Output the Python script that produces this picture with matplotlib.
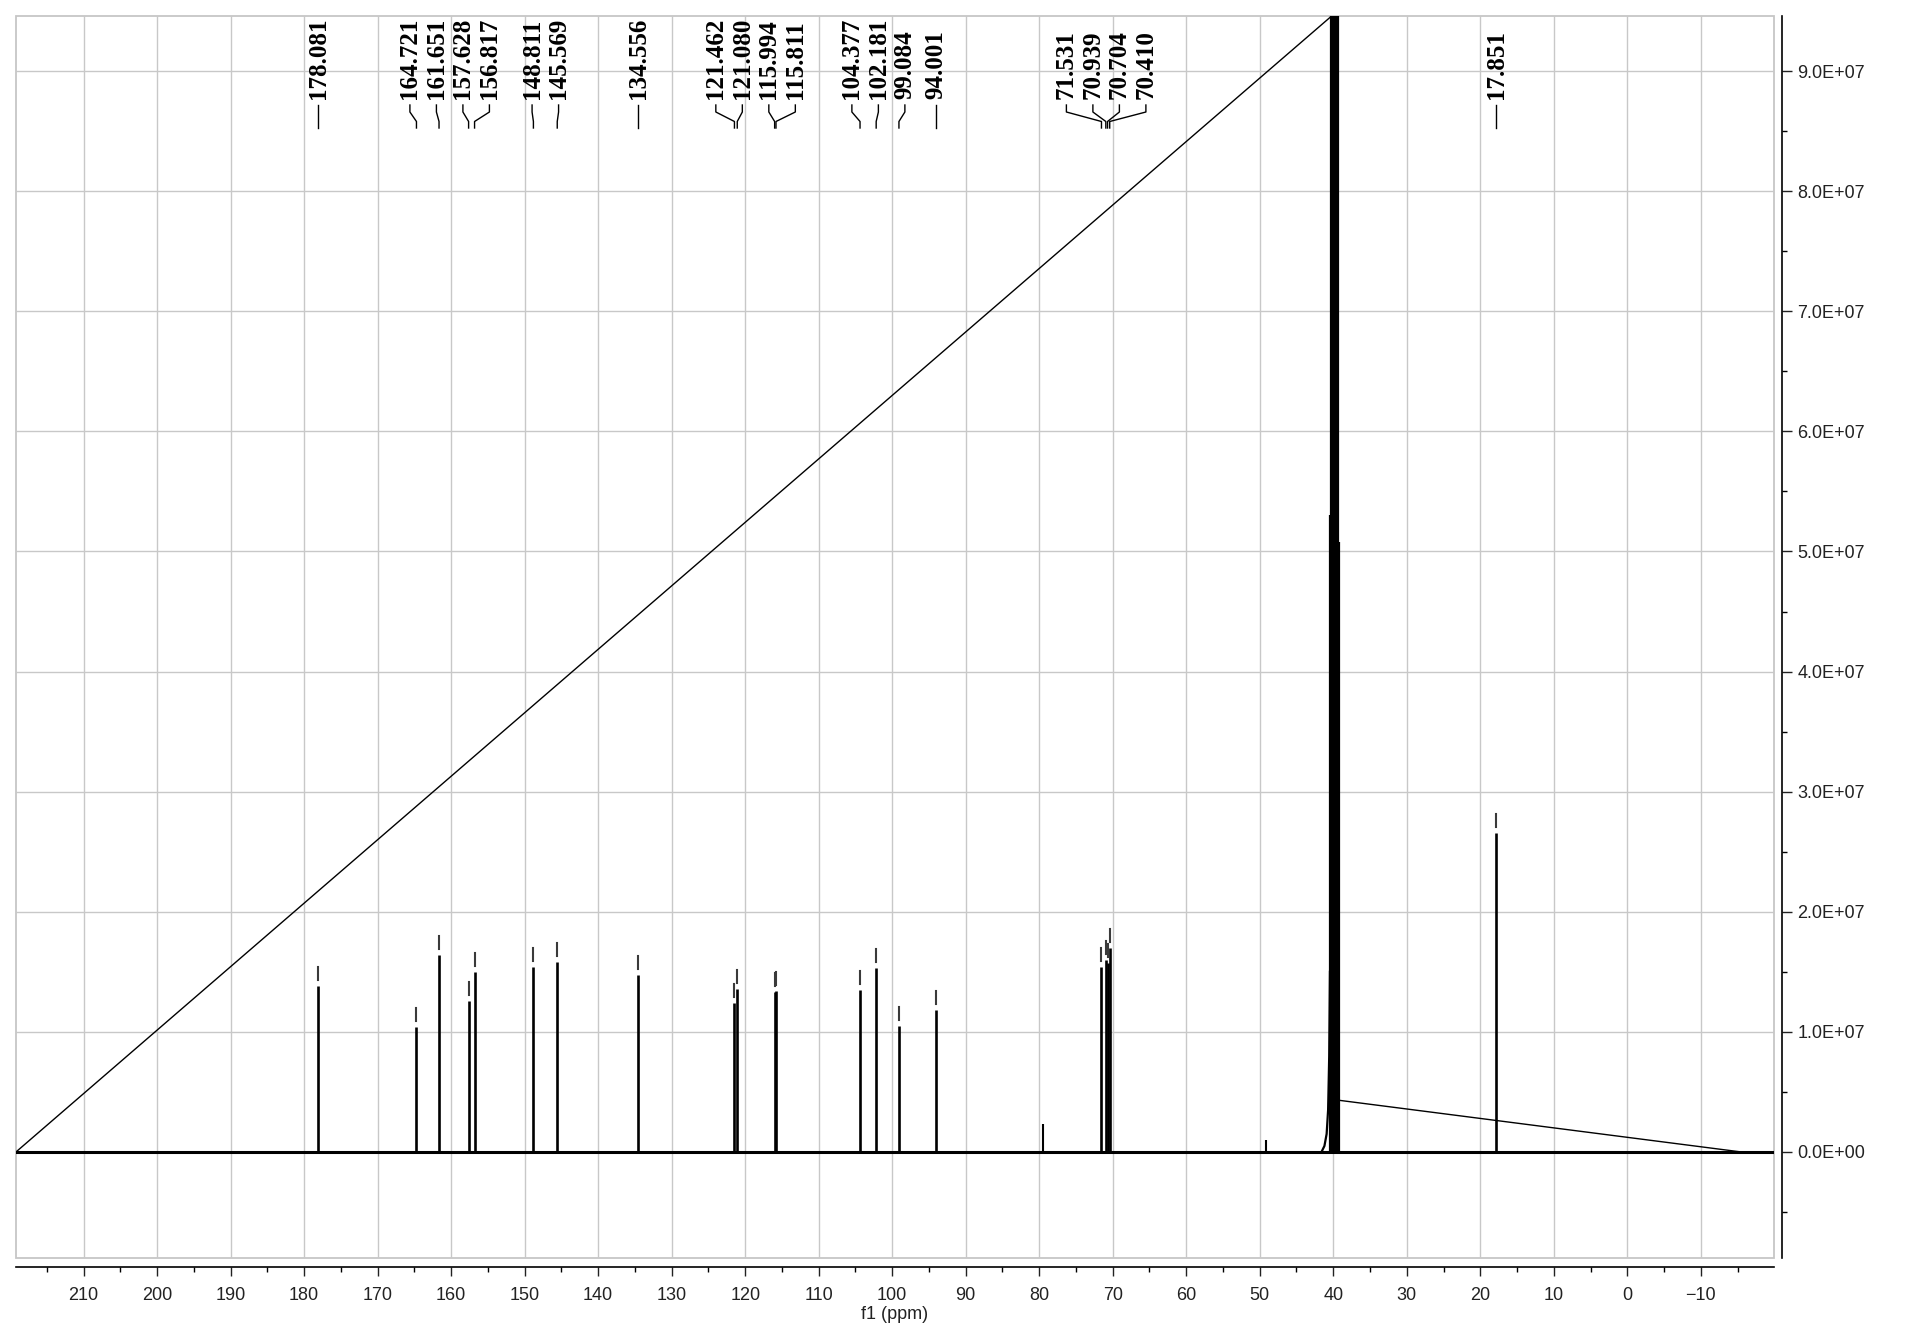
import matplotlib
matplotlib.use("Agg")
import matplotlib.pyplot as plt
from matplotlib import transforms
from matplotlib.lines import Line2D
from matplotlib.patches import Rectangle
from matplotlib.ticker import MultipleLocator, FuncFormatter
import numpy as np

# ---- 13C spectrum data -------------------------------------------------
# labelled resonances (ppm) and their peak intensities
peak_ppm = [178.081, 164.721, 161.651, 157.628, 156.817, 148.811, 145.569, 134.556,
            121.462, 121.080, 115.994, 115.811, 104.377, 102.181, 99.084, 94.001,
            71.531, 70.939, 70.704, 70.410, 17.851]
peak_int = [1.38e7, 1.04e7, 1.64e7, 1.26e7, 1.50e7, 1.54e7, 1.58e7, 1.47e7,
            1.24e7, 1.36e7, 1.33e7, 1.34e7, 1.35e7, 1.53e7, 1.05e7, 1.18e7,
            1.54e7, 1.60e7, 1.57e7, 1.70e7, 2.66e7]

# small unlabelled signals
minor_ppm = [79.5, 49.1]
minor_int = [0.23e7, 0.10e7]

# DMSO-d6 solvent septet (inner lines run off scale)
solvent_ppm = [40.45, 40.24, 40.03, 39.82, 39.60, 39.39, 39.18]
solvent_int = [5.30e7, 15.9e7, 31.8e7, 37.1e7, 31.8e7, 15.3e7, 5.08e7]
# broadened foot of the solvent signal
solvent_foot_ppm = [41.6, 41.2, 40.9, 40.7, 40.55, 40.45]
solvent_foot_int = [0.0, 0.05e7, 0.15e7, 0.35e7, 0.8e7, 1.5e7]

# integral traces
integral1_ppm = [219.2, 40.2]
integral1_val = [0.0, 9.46e7]
integral2_ppm = [39.18, -15.5]
integral2_val = [0.43e7, 0.0]

x_limits = (219.2, -19.96)
y_limits = (-0.883e7, 9.459e7)

# ---- figure ---------------------------------------------------------------
W, H, DPI = 1917, 1327, 100
fig = plt.figure(figsize=(W / DPI, H / DPI), dpi=DPI)
fig.patch.set_facecolor("white")

ax_l, ax_r, ax_t, ax_b = 16, 1774, 16, 1258
ax = fig.add_axes([ax_l / W, (H - ax_b) / H, (ax_r - ax_l) / W, (ax_b - ax_t) / H])
ax.set_xlim(*x_limits)
ax.set_ylim(*y_limits)

tick_font = dict(family=["Liberation Sans", "DejaVu Sans"], size=13)
label_font = ["Liberation Serif", "DejaVu Serif"]

# frame and spines
for side in ("left", "top"):
    ax.spines[side].set_visible(False)
ax.spines["bottom"].set_position(("outward", 6.5))
ax.spines["right"].set_position(("outward", 5.8))
ax.spines["bottom"].set_linewidth(1.2)
ax.spines["right"].set_linewidth(1.2)
ax.add_patch(Rectangle((0, 0), 1, 1, transform=ax.transAxes, fill=False,
                       ec="#c6c6c6", lw=1.3, clip_on=False, zorder=0.5))

# x axis
ax.xaxis.set_major_locator(MultipleLocator(10))
ax.xaxis.set_minor_locator(MultipleLocator(5))
ax.tick_params(axis="x", which="major", direction="out", length=6.5, width=1.0,
               pad=8, labelsize=13, colors="#222222")
ax.tick_params(axis="x", which="minor", direction="out", length=3.3, width=1.0)
ax.set_xlabel("f1 (ppm)", fontdict=tick_font, color="#222222", labelpad=1)

# y axis on the right
ax.yaxis.tick_right()
ax.yaxis.set_major_locator(MultipleLocator(1e7))
ax.yaxis.set_minor_locator(MultipleLocator(0.5e7))
ax.yaxis.set_major_formatter(FuncFormatter(lambda v, p: f"{v:.1E}"))
ax.tick_params(axis="y", which="major", direction="out", length=7, width=1.0,
               pad=4, labelsize=13, colors="#222222")
ax.tick_params(axis="y", which="minor", direction="out", length=3.6, width=1.0)
ax.yaxis.offsetText.set_visible(False)

for t in ax.get_xticklabels() + ax.get_yticklabels():
    t.set_fontfamily(tick_font["family"])

ax.grid(True, which="major", color="#c8c8c8", lw=1.0, zorder=0)
ax.set_axisbelow(True)

# ---- spectrum ---------------------------------------------------------
ax.axhline(0, color="black", lw=2.2, zorder=2)
ax.vlines(peak_ppm, 0, peak_int, colors="black", lw=1.9, zorder=3)
ax.vlines(minor_ppm, 0, minor_int, colors="black", lw=1.5, zorder=3)
ax.vlines(solvent_ppm, 0, solvent_int, colors="black", lw=1.6, zorder=3)
ax.plot(solvent_foot_ppm, solvent_foot_int, color="black", lw=1.6, zorder=3)

ax.plot(integral1_ppm, integral1_val, color="black", lw=1.0, zorder=2.5)
ax.plot(integral2_ppm, integral2_val, color="black", lw=1.0, zorder=2.5)

# ---- peak picking marks and labels -----------------------------------------
pk_disp = ax.transData.transform(np.column_stack([peak_ppm, peak_int]))
pk_x = pk_disp[:, 0]
pk_y = pk_disp[:, 1]

# small tick above each picked peak
for x, y in zip(pk_x, pk_y):
    fig.add_artist(Line2D([x, x], [y + 6, y + 19], transform=transforms.IdentityTransform(),
                          color="#3a3a3a", lw=1.5))

# spread labels so that neighbouring ones do not overlap
gap = 26.5
order = np.argsort(pk_x)
clusters = [[i] for i in order]


def positions(cl):
    c = np.mean([pk_x[i] for i in cl])
    k = len(cl)
    return [c + (j - (k - 1) / 2) * gap for j in range(k)]


merged = True
while merged:
    merged = False
    for a in range(len(clusters) - 1):
        if positions(clusters[a])[-1] + gap > positions(clusters[a + 1])[0]:
            clusters[a] = clusters[a] + clusters[a + 1]
            del clusters[a + 1]
            merged = True
            break

label_x = np.zeros(len(peak_ppm))
for cl in clusters:
    for i, lx in zip(cl, positions(cl)):
        label_x[i] = lx

y_text = H - 99
y_c1, y_c2, y_c3, y_c4 = H - 105, H - 112, H - 121.5, H - 128
for i, ppm in enumerate(peak_ppm):
    lx, px = label_x[i], pk_x[i]
    fig.text(lx / W, y_text / H, f"{ppm:.3f}", rotation=90, ha="center", va="bottom",
             family=label_font, weight="bold", size=18, color="black")
    fig.add_artist(Line2D([lx, lx, px, px], [y_c1, y_c2, y_c3, y_c4],
                          transform=transforms.IdentityTransform(),
                          color="black", lw=1.0))

fig.savefig("out.png", dpi=DPI, facecolor="white")
